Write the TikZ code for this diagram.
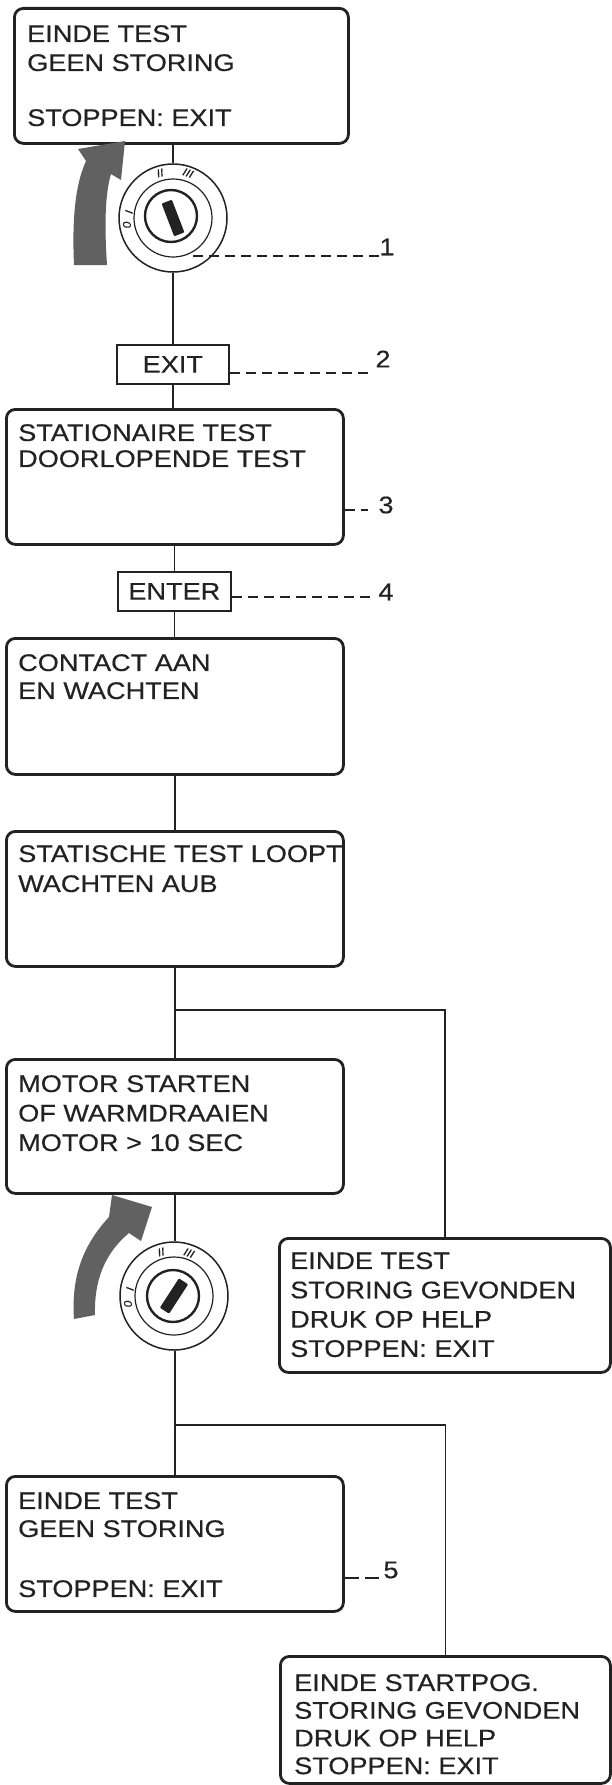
\documentclass[tikz,border=0pt]{standalone}
\usepackage{fontspec}
\setmainfont{Liberation Sans}[FakeStretch=1.13, FakeBold=0.4]
\definecolor{ink}{HTML}{222222}
\tikzset{
  bigbox/.style={draw=ink, line width=2.8pt, rounded corners=9pt, anchor=north west, inner sep=0pt},
  keybox/.style={draw=ink, line width=1.7pt, anchor=north west, inner sep=0pt, text=ink,
                 font=\fontsize{24}{24}\selectfont},
  txt/.style={anchor=north west, inner sep=0pt, align=left, text=ink},
  conn/.style={draw=ink, line width=1.3pt},
  leader/.style={draw=ink, line width=1.2pt, dash pattern=on 10pt off 6pt},
  num/.style={text=ink, inner sep=0pt, font=\fontsize{24}{24}\selectfont},
  keyring/.style={circle, draw=ink, line width=1.5pt, minimum size=108pt, inner sep=0pt},
  keyslot/.style={rectangle, fill=ink, minimum width=11pt, minimum height=35pt, inner sep=0pt, rounded corners=1pt},
  ringlbl/.style={text=ink, inner sep=0pt, font=\fontsize{11}{11}\selectfont\itshape},
  turnarrow/.style={fill=black!62}
}
\begin{document}
\begin{tikzpicture}[x=1pt, y=-1pt]
\fill[white] (0,0) rectangle (612,1785);
\useasboundingbox (0,0) rectangle (612,1785);

% ---------- boxes ----------
\node[bigbox, minimum width=334pt, minimum height=135pt] (b1) at (13,7) {};
\node[txt, font=\fontsize{24}{29}\selectfont] (t1) at (27,25) {EINDE TEST\\GEEN STORING\\[26pt]STOPPEN: EXIT};

\node[keybox, minimum width=112pt, minimum height=39pt] (exit) at (116,344) {EXIT};

\node[bigbox, minimum width=337pt, minimum height=135pt] (b2) at (5,408) {};
\node[txt, font=\fontsize{24}{26}\selectfont] (t2) at (18,424) {STATIONAIRE TEST\\DOORLOPENDE TEST};

\node[keybox, minimum width=113pt, minimum height=39pt] (enter) at (117,571) {ENTER};

\node[bigbox, minimum width=337pt, minimum height=136pt] (b3) at (5,637) {};
\node[txt, font=\fontsize{24}{28}\selectfont] (t3) at (18,654) {CONTACT AAN\\EN WACHTEN};

\node[bigbox, minimum width=337pt, minimum height=135pt] (b4) at (5,830) {};
\node[txt, font=\fontsize{24}{30}\selectfont] (t4) at (18,845) {STATISCHE TEST LOOPT\\WACHTEN AUB};

\node[bigbox, minimum width=337pt, minimum height=134pt] (b5) at (5,1058) {};
\node[txt, font=\fontsize{24}{29.5}\selectfont] (t5) at (18,1075) {MOTOR STARTEN\\OF WARMDRAAIEN\\MOTOR > 10 SEC};

\node[bigbox, minimum width=331pt, minimum height=134pt] (b6) at (278,1237) {};
\node[txt, font=\fontsize{24}{29.3}\selectfont] (t6) at (290,1252) {EINDE TEST\\STORING GEVONDEN\\DRUK OP HELP\\STOPPEN: EXIT};

\node[bigbox, minimum width=337pt, minimum height=135pt] (b7) at (5,1475) {};
\node[txt, font=\fontsize{24}{28}\selectfont] (t7) at (18,1492) {EINDE TEST\\GEEN STORING\\[32pt]STOPPEN: EXIT};

\node[bigbox, minimum width=330pt, minimum height=127pt] (b8) at (279,1655) {};
\node[txt, font=\fontsize{24}{27.7}\selectfont] (t8) at (294,1674) {EINDE STARTPOG.\\STORING GEVONDEN\\DRUK OP HELP\\STOPPEN: EXIT};

% ---------- ignition switches ----------
\node[keyring] (k1) at (173,218) {};
\draw[ink, line width=1.2pt] (k1.center) circle (39pt);
\draw[ink, line width=2.4pt] ([shift={(-2,-2)}]k1.center) circle (26pt);
\node[keyslot, rotate=21] (k1s) at (k1.center) {};
\node[ringlbl, rotate=15] (k1a) at (160,173) {II};
\node[ringlbl, rotate=-20] (k1b) at (188,173) {III};
\node[ringlbl, rotate=82] (k1c) at (129,212) {I};
\node[ringlbl, rotate=99] (k1d) at (127,225) {0};

\node[keyring] (k2) at (174,1296) {};
\draw[ink, line width=1.2pt] (k2.center) circle (39pt);
\draw[ink, line width=2.4pt] ([shift={(-1,0)}]k2.center) circle (26pt);
\node[keyslot, rotate=-33] (k2s) at (k2.center) {};
\node[ringlbl, rotate=15] (k2a) at (161,1252) {II};
\node[ringlbl, rotate=-20] (k2b) at (189,1253) {III};
\node[ringlbl, rotate=82] (k2c) at (130,1289) {I};
\node[ringlbl, rotate=99] (k2d) at (128,1304) {0};

% ---------- turning arrows ----------
\fill[turnarrow] (74,265) .. controls (72,220) and (75,185) .. (86,161)
   -- (78,149) -- (125,141) -- (121,180) -- (111,174)
   .. controls (104,197) and (105,235) .. (107,265) -- cycle;
\fill[turnarrow] (74,1319) .. controls (71,1275) and (84,1244) .. (109,1217)
   -- (112,1195) -- (152,1207) -- (141,1241) -- (129,1233)
   .. controls (105,1253) and (94,1280) .. (95,1315) -- cycle;

% ---------- connectors ----------
\draw[conn] (k1.north) -- (k1.north |- b1.south);
\draw[conn] (k1.south) -- (k1.south |- exit.north);
\draw[conn] (exit.south) -- (exit.south |- b2.north);
\draw[conn] (enter.north |- b2.south) -- (enter.north);
\draw[conn] (enter.south) -- (enter.south |- b3.north);
\draw[conn] (b3.south) -- (b4.north);
\draw[conn] (b4.south) -- (b5.north);
\coordinate (br1) at (173.5,1010);
\draw[conn] (br1) -| (b6.north);
\draw[conn] (b5.south) -- (b5.south |- k2.north);
\draw[conn] (b7.north |- k2.south) -- (b7.north);
\coordinate (br2) at (173.5,1425);
\draw[conn] (br2) -| (b8.north);

% ---------- leaders ----------
\coordinate (d1s) at (193,256);
\coordinate (d1e) at (381,256);
\node[num] (n1) at (387,247) {1};
\draw[leader] (d1s) -- (d1e);

\coordinate (d2e) at (372,373);
\node[num] (n2) at (383,359) {2};
\draw[leader] (exit.east |- d2e) -- (d2e);

\coordinate (d3e) at (368,510);
\node[num] (n3) at (386,505) {3};
\draw[leader] (b2.east |- d3e) -- (d3e);

\coordinate (d4e) at (374,597);
\node[num] (n4) at (386,592) {4};
\draw[leader] (enter.east |- d4e) -- (d4e);

\coordinate (d5e) at (379,1578);
\node[num] (n5) at (391,1570) {5};
\draw[leader, dash pattern=on 14pt off 6pt] (b7.east |- d5e) -- (d5e);
\end{tikzpicture}
\end{document}
